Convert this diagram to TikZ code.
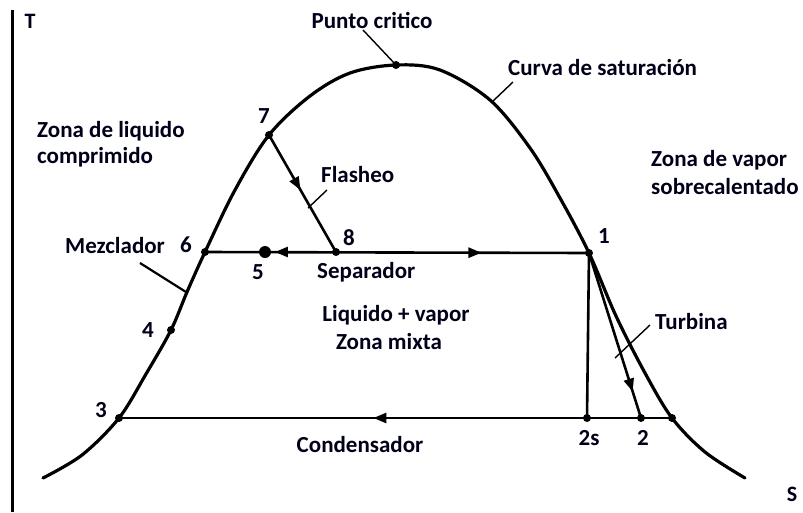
\documentclass[tikz,border=0pt]{standalone}
\usepackage{fontspec}
\setmainfont{Carlito}
\usetikzlibrary{arrows.meta,decorations.markings}
\begin{document}
\begin{tikzpicture}[x=1pt,y=-1pt,
  lbl/.style={font=\bfseries\fontsize{23}{26}\selectfont, inner sep=0pt, text=black!90!blue},
  axlbl/.style={font=\bfseries\fontsize{22}{24}\selectfont, inner sep=0pt, text=black!90!blue},
  dot/.style={circle, fill=black, inner sep=0pt, minimum size=8pt},
  dome/.style={line width=3.2pt, line cap=round},
  cyc/.style={line width=2.6pt},
  leader/.style={line width=1.4pt},
  midarrow/.style={postaction={decorate}, decoration={markings,
     mark=at position #1 with {\arrow{Triangle[length=13pt,width=10pt]}}}}]
\useasboundingbox (0,0) rectangle (803,512);
% axis
\draw[line width=3pt] (12,10) -- (12,512);
\node[axlbl] (T) at (30,21) {T};
\node[axlbl] (S) at (792,494) {S};
% saturation dome
\draw[dome] plot[smooth, tension=0.55] coordinates {
 (43,478) (82,455) (119,418) (146,374) (171,330) (187,292) (205,252)
 (235,190) (269,135) (310,96) (350,73) (396,65) (440,70) (490,100)
 (530,148) (560,198) (589,253) (616,316) (645,373) (672,418) (705,452) (745,478)};
% state points
\coordinate (p1) at (589,253);
\coordinate (p2) at (641,418);
\coordinate (p2s) at (587,418);
\coordinate (p3) at (119,418);
\coordinate (p4) at (171,330);
\coordinate (p5) at (265,252);
\coordinate (p6) at (205,252);
\coordinate (p7) at (269,135);
\coordinate (p8) at (336,252);
\coordinate (pc) at (396,65);
\coordinate (px) at (672,418);
% cycle lines
\draw[cyc, midarrow=0.72] (p6) -- (p1);
\draw[cyc, midarrow=0.86] (p8) -- (p5);
\draw[cyc, midarrow=0.47] (p7) -- (p8);
\draw[cyc, midarrow=0.84] (p1) -- (p2);
\draw[cyc] (p1) -- (p2s);
\draw[cyc, midarrow=0.54] (px) -- (p3);
% dots
\foreach \p in {p1,p2,p2s,p3,p4,p6,p7,p8,pc,px}
  \node[dot] at (\p) {};
\node[circle, fill=black, inner sep=0pt, minimum width=12pt, minimum height=10pt] at (p5) {};
% leaders
\coordinate (lc1) at (363,30);
\draw[leader] (lc1) -- (pc);
\coordinate (ls1) at (513,82);
\coordinate (ls2) at (492,102);
\draw[leader] (ls1) -- (ls2);
\coordinate (lf1) at (327,190);
\coordinate (lf2) at (308,208);
\draw[leader] (lf1) -- (lf2);
\coordinate (lm1) at (140,263);
\coordinate (lm2) at (186,292);
\draw[line width=2.2pt] (lm1) -- (lm2);
\coordinate (lt1) at (650,325);
\coordinate (lt2) at (615,358);
\draw[leader] (lt1) -- (lt2);
% labels
\node[lbl] (lpc) at (372,20) {Punto critico};
\node[lbl, anchor=west] (lcs) at (508,68) {Curva de saturación};
\node[lbl, anchor=west, align=left, font=\bfseries\fontsize{23}{26}\selectfont] (lzl) at (37,144) {Zona de liquido\\comprimido};
\node[lbl, anchor=west, align=left, font=\bfseries\fontsize{23}{28}\selectfont] (lzv) at (651,173) {Zona de vapor\\sobrecalentado};
\node[lbl] (l7) at (264,116) {7};
\node[lbl, anchor=west] (lfl) at (321,175) {Flasheo};
\node[lbl, anchor=west] (lmz) at (65,246) {Mezclador};
\node[lbl] (l6) at (186,245) {6};
\node[lbl] (l8) at (349,238) {8};
\node[lbl] (l5) at (258,272) {5};
\node[lbl, anchor=west] (lsep) at (317,272) {Separador};
\node[lbl] (l1) at (604,236) {1};
\node[lbl] (llv) at (396,315) {Liquido + vapor};
\node[lbl] (lzm) at (389,342) {Zona mixta};
\node[lbl] (l4) at (148,330) {4};
\node[lbl] (l3) at (101,410) {3};
\node[lbl, anchor=west] (ltb) at (655,322) {Turbina};
\node[lbl] (lcd) at (360,445) {Condensador};
\node[lbl] (l2s) at (589,438) {2s};
\node[lbl] (l2) at (643,438) {2};
\end{tikzpicture}
\end{document}
